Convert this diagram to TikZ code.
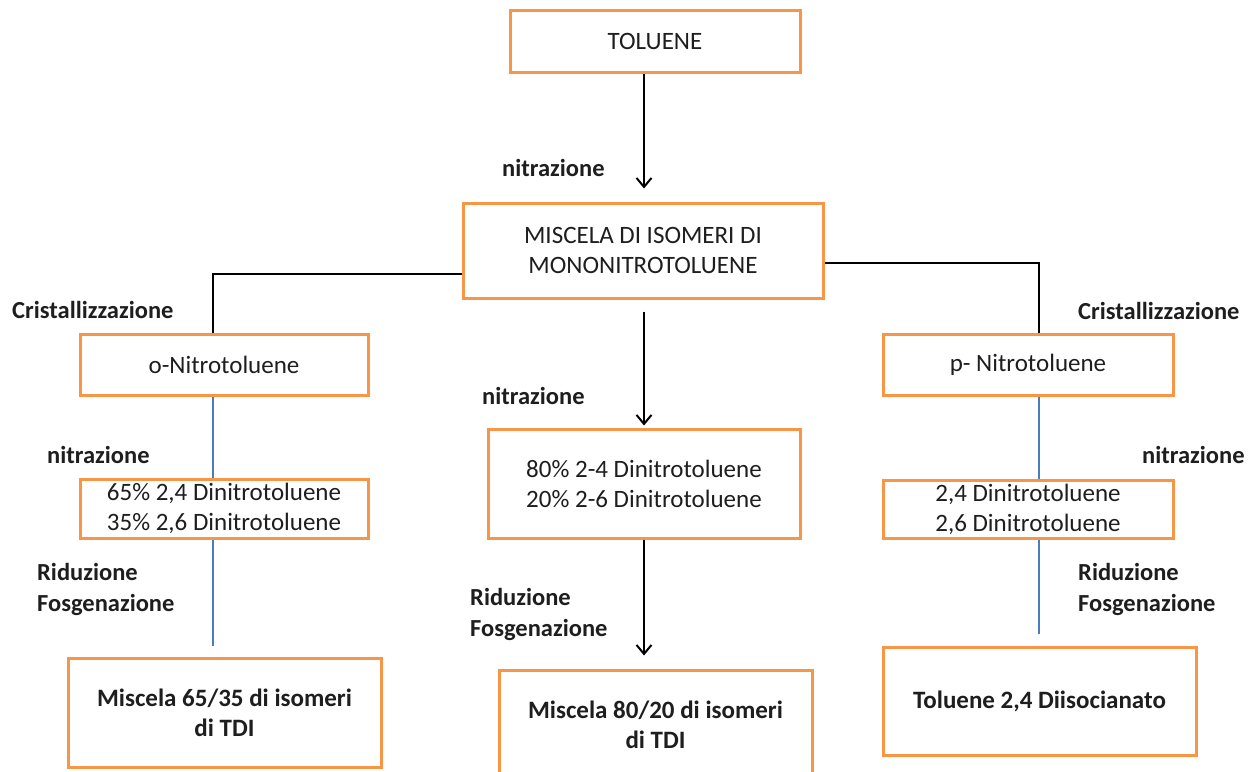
\documentclass[tikz,border=0pt]{standalone}
\usepackage{fontspec}
\setmainfont{Carlito}
\usetikzlibrary{arrows.meta}
\definecolor{orgc}{HTML}{F79646}
\definecolor{bluc}{HTML}{4A7EBB}
\definecolor{txtc}{HTML}{1E1E1E}
\begin{document}
\begin{tikzpicture}[x=1pt,y=-1pt,
  box/.style={draw=orgc, line width=3pt, fill=white, align=center, inner sep=0pt, text=txtc,
    font=\fontsize{25}{30}\selectfont},
  boldbox/.style={box, font=\bfseries\fontsize{25}{30}\selectfont},
  lbl/.style={anchor=west, inner sep=0pt, align=left, text=txtc, font=\bfseries\fontsize{24.5}{31}\selectfont},
  arr/.style={line width=2.2pt, -{Straight Barb[length=9pt,width=15pt,line width=2pt]}},
  conn/.style={line width=1.8pt, draw=black},
  blu/.style={line width=2.5pt, draw=bluc}]
\useasboundingbox (0,0) rectangle (1257,771);
\fill[white] (0,0) rectangle (1257,771);

% boxes
\node[box, minimum width=290pt, minimum height=62pt] (tol) at (655,41) {TOLUENE};
\node[box, minimum width=360pt, minimum height=95pt] (mis) at (643,250.5) {MISCELA DI ISOMERI DI\\MONONITROTOLUENE};
\node[box, minimum width=288pt, minimum height=61pt] (onit) at (224,364.5) {o-Nitrotoluene};
\node[box, minimum width=288pt, minimum height=59pt] (op) at (224,508.5) {65\% 2,4 Dinitrotoluene\\35\% 2,6 Dinitrotoluene};
\node[boldbox, minimum width=313pt, minimum height=109pt] (otdi) at (224.5,712.5) {Miscela 65/35 di isomeri\\di TDI};
\node[box, minimum width=312pt, minimum height=109pt] (cdn) at (644,483.5) {80\% 2-4 Dinitrotoluene\\20\% 2-6 Dinitrotoluene};
\node[boldbox, minimum width=313pt, minimum height=110pt] (ctdi) at (655.5,725) {Miscela 80/20 di isomeri\\di TDI};
\node[box, minimum width=290pt, minimum height=61pt] (pnit) at (1028,364.5) {p- Nitrotoluene};
\node[box, minimum width=290pt, minimum height=58pt] (pp) at (1028,509) {2,4 Dinitrotoluene\\2,6 Dinitrotoluene};
\node[boldbox, minimum width=313pt, minimum height=108pt] (ptdi) at (1039.5,701) {Toluene 2,4 Diisocianato};

% central arrows
\draw[arr, shorten >=13pt] (tol.south -| cdn.center) -- (mis.north -| cdn.center);
\draw[arr, shorten <=12pt, shorten >=2pt] (mis.south -| cdn.center) -- (cdn.north);
\draw[arr, shorten >=13pt] (cdn.south) -- (ctdi.north -| cdn.center);

% branches
\draw[conn] ([yshift=-23.5pt]mis.west) -| ([xshift=-11pt]onit.north);
\draw[conn] ([yshift=-12.5pt]mis.east) -| ([xshift=11pt]pnit.north);

% blue connectors
\draw[blu] ([xshift=-11pt]onit.south) -- ([xshift=-11pt]op.north);
\draw[blu] ([xshift=-11pt]op.south) -- ([xshift=-11.5pt,yshift=11pt]otdi.north);
\draw[blu] ([xshift=11pt]pnit.south) -- ([xshift=11pt]pp.north);
\draw[blu] ([xshift=11pt]pp.south) -- ([xshift=-0.5pt,yshift=12pt]ptdi.north);

% labels
\node[lbl] (l1) at (502,168) {nitrazione};
\node[lbl] (l2) at (12,310) {Cristallizzazione};
\node[lbl] (l3) at (47,455) {nitrazione};
\node[lbl] (l4) at (37,589) {Riduzione\\Fosgenazione};
\node[lbl] (l6) at (482,396) {nitrazione};
\node[lbl] (l7) at (470,614) {Riduzione\\Fosgenazione};
\node[lbl] (l8) at (1078,311) {Cristallizzazione};
\node[lbl] (l9) at (1142,455) {nitrazione};
\node[lbl] (l10) at (1078,589) {Riduzione\\Fosgenazione};
\end{tikzpicture}
\end{document}
